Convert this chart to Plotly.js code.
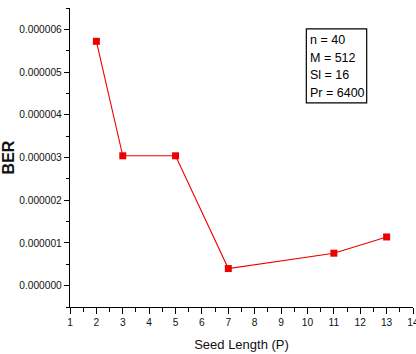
<!DOCTYPE html>
<html>
<head>
<meta charset="utf-8">
<script src="https://cdn.plot.ly/plotly-3.0.1.min.js"></script>
<style>
  html, body { margin: 0; padding: 0; background: #fff; }
  #chart { width: 416px; height: 354px; }
</style>
</head>
<body>
<div id="chart"></div>
<script>
// Bit error rate versus seed length
const seedLength = [2, 3, 5, 7, 11, 13];
const ber = [5.72e-6, 3.04e-6, 3.04e-6, 0.40e-6, 0.76e-6, 1.14e-6];

// Simulation parameters shown in the inset box
const paramLines = ['n = 40', 'M = 512', 'Sl = 16', 'Pr = 6400'];

const red = '#ee0000';
const tickFont = { family: 'Arial, Liberation Sans, sans-serif', size: 10.2, color: '#111' };

const trace = {
  x: seedLength,
  y: ber,
  type: 'scatter',
  mode: 'lines+markers',
  line: { color: red, width: 1.1 },
  marker: { symbol: 'square', size: 7, color: red },
  showlegend: false,
  hoverinfo: 'x+y'
};

const annotations = paramLines.map((t, i) => ({
  text: t,
  xref: 'paper', yref: 'paper',
  x: 0.694, y: 0.892 - i * 0.0585,
  xanchor: 'left', yanchor: 'middle',
  showarrow: false,
  font: { family: 'Arial, Liberation Sans, sans-serif', size: 12.5, color: '#000' }
}));

const layout = {
  width: 416, height: 354,
  margin: { l: 70, r: 3, t: 8, b: 47 },
  paper_bgcolor: '#fff', plot_bgcolor: '#fff',
  xaxis: {
    range: [1, 14],
    dtick: 1, tick0: 1,
    ticks: 'outside', ticklen: 6, tickwidth: 1, tickcolor: '#000',
    minor: { dtick: 0.5, ticks: 'outside', ticklen: 3.5, tickwidth: 1, tickcolor: '#000' },
    showline: true, linecolor: '#000', linewidth: 1.2,
    showgrid: false, zeroline: false,
    ticklabeloverflow: 'allow',
    tickfont: tickFont,
    title: { text: 'Seed Length (P)', font: { family: 'Arial, Liberation Sans, sans-serif', size: 13, color: '#111' }, standoff: 12 }
  },
  yaxis: {
    range: [-0.5e-6, 6.5e-6],
    dtick: 1e-6, tick0: 0,
    tickformat: '.6f',
    ticks: 'outside', ticklen: 5, tickwidth: 1, tickcolor: '#000',
    minor: { dtick: 0.5e-6, ticks: 'outside', ticklen: 3, tickwidth: 1, tickcolor: '#000' },
    showline: true, linecolor: '#000', linewidth: 1.2,
    showgrid: false, zeroline: false,
    tickfont: tickFont,
    title: { text: '<b>BER</b>', font: { family: 'Arial, Liberation Sans, sans-serif', size: 16, color: '#111' }, standoff: 8 }
  },
  shapes: [{
    type: 'rect', xref: 'paper', yref: 'paper',
    x0: 0.689, x1: 0.865, y0: 0.683, y1: 0.93,
    line: { color: '#000', width: 1.2 }, fillcolor: 'rgba(0,0,0,0)'
  }],
  annotations: annotations
};

Plotly.newPlot('chart', [trace], layout, { staticPlot: true, displayModeBar: false });
</script>
</body>
</html>
